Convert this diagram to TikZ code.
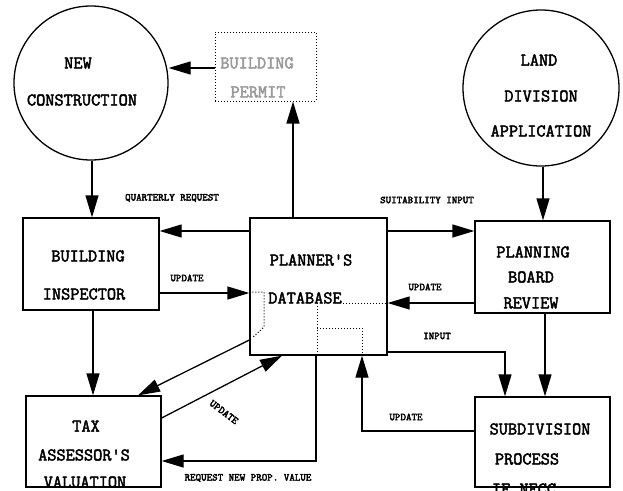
\documentclass[tikz,border=0pt]{standalone}
\usepackage{fontspec}
\newfontfamily\heavytt{Latin Modern Mono}[FakeBold=2.5]
\newfontfamily\heavysm{Latin Modern Mono}[FakeBold=3]
\usetikzlibrary{arrows.meta}
\begin{document}
\begin{tikzpicture}[x=1pt,y=-1pt,
  shp/.style={draw,line width=1.3pt,inner sep=0pt},
  boxn/.style={shp,rectangle},
  circn/.style={shp,circle},
  big/.style={font=\fontsize{17.8}{17.8}\heavytt,inner sep=0pt},
  sml/.style={font=\fontsize{10.5}{10.5}\heavysm,inner sep=0pt},
  arr/.style={line width=1.3pt,-{Triangle[length=22pt,width=13pt]}},
  dotl/.style={line width=1pt,dash pattern=on 1pt off 2pt}]
\path[use as bounding box,fill=white] (0,0) rectangle (623,490);

% shapes
\node[circn,minimum size=154pt] (nc) at (91,83) {};
\node[circn,minimum size=156pt] (ld) at (541,88) {};
\node[boxn,dotl,minimum width=101pt,minimum height=69pt] (bp) at (265.5,66.5) {};
\node[boxn,minimum width=136pt,minimum height=92pt] (bi) at (91,264) {};
\node[boxn,minimum width=135pt,minimum height=91pt] (ta) at (93.5,441.5) {};
\node[boxn,minimum width=137pt,minimum height=137pt] (db) at (318.5,286.5) {};
\node[boxn,minimum width=135pt,minimum height=92pt] (pb) at (542.5,267) {};
\node[boxn,minimum width=135pt,minimum height=90pt] (sp) at (542.5,442) {};

% texts
\node[big] (t1) at (78,63) {NEW};
\node[big] (t2) at (82,100) {CONSTRUCTION};
\node[big] (t3) at (539,60) {LAND};
\node[big] (t4) at (541,96) {DIVISION};
\node[big] (t5) at (541,131) {APPLICATION};
\node[big,text=black!40] (t6) at (257,63) {BUILDING};
\node[big,text=black!40] (t7) at (258,92) {PERMIT};
\node[big] (t8) at (88,256) {BUILDING};
\node[big] (t9) at (84,294) {INSPECTOR};
\node[big] (t10) at (86,426) {TAX};
\node[big] (t11) at (84,455) {ASSESSOR'S};
\node[big] (t12) at (85,482) {VALUATION};
\node[big] (t13) at (311,260) {PLANNER'S};
\node[big] (t14) at (305,298) {DATABASE};
\node[big] (t15) at (533,252) {PLANNING};
\node[big] (t16) at (531,277) {BOARD};
\node[big] (t17) at (531,303) {REVIEW};
\node[big] (t18) at (540,429) {SUBDIVISION};
\node[big] (t19) at (527,459) {PROCESS};
\node[big] (t20) at (524,489) {IF NECC};

% small labels
\node[sml] (l1) at (172,198) {QUARTERLY REQUEST};
\node[sml] (l2) at (187,278) {UPDATE};
\node[sml,rotate=-37] (l3) at (224,412) {UPDATE};
\node[sml] (l4) at (248,478) {REQUEST NEW PROP. VALUE};
\node[sml] (l5) at (427,200) {SUITABILITY INPUT};
\node[sml] (l6) at (425,287) {UPDATE};
\node[sml] (l7) at (437,336) {INPUT};
\node[sml] (l8) at (406,417) {UPDATE};

% connectors
\draw[arr] (bp.west |- 0,68) -- (nc.east |- 0,68);
\draw[arr] (db.north -| 293,0) -- (bp.south -| 293,0);
\draw[arr] (nc.south -| 92,0) -- (bi.north -| 92,0);
\draw[arr] (db.west |- 0,231) -- (bi.east |- 0,231);
\draw[arr] (bi.east |- 0,293) -- (db.west |- 0,293);
\draw[arr] (bi.south -| 93,0) -- (ta.north -| 93,0);
\draw[arr] (db.west |- 0,340) -- (ta.north -| 138,0);
\draw[arr] (ta.east |- 0,418) -- (db.south -| 282,0);
\draw[arr] (db.south -| 316,0) |- (ta.east |- 0,461);
\draw[arr] (db.east |- 0,231) -- (pb.west |- 0,231);
\draw[arr] (pb.west |- 0,303) -- (db.east |- 0,303);
\draw[arr] (ld.south -| 543,0) -- (pb.north -| 543,0);
\draw[arr] (pb.south -| 545,0) -- (sp.north -| 545,0);
\draw[arr] (db.east |- 0,352) -| (sp.north -| 505,0);
\draw[arr] (sp.west |- 0,431) -| (db.south -| 362,0);

% dotted paths inside database
\draw[dotl] (db.west |- 0,292) -- (264,292) -- (264,327) -- (252,338);
\draw[dotl] (343,303) -- (db.east |- 0,303);
\draw[dotl] (317,303) -- (db.south -| 317,0);
\draw[dotl] (317,328) -- (362,328) -- (db.south -| 362,0);
\end{tikzpicture}
\end{document}
